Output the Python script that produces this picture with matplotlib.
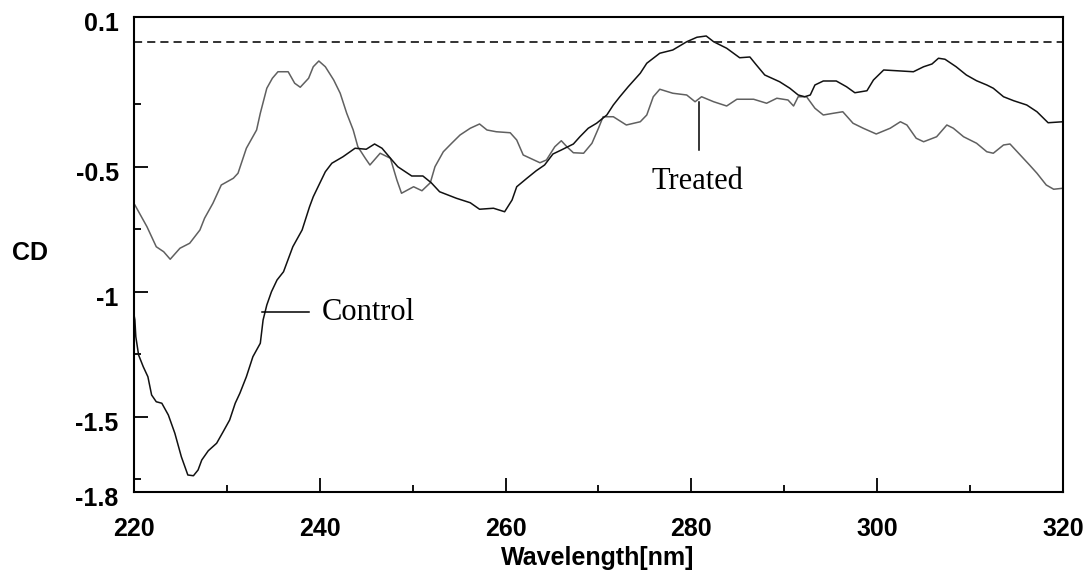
import matplotlib.pyplot as plt
from matplotlib.ticker import FixedLocator
import matplotlib.transforms as mtransforms

# Control spectrum (black)
control_wl = [220.0, 220.1, 220.2, 220.5, 221.0, 221.5, 221.9, 222.4, 223.0,
              223.7, 224.4, 225.1, 225.8, 226.4, 226.9, 227.3, 228.0, 228.9,
              229.6, 230.3, 230.9, 231.4, 232.1, 232.8, 233.6, 233.9, 234.3,
              234.8, 235.4, 236.1, 237.1, 238.1, 238.9, 239.3, 240.0, 240.6,
              241.3, 242.5, 243.8, 245.0, 245.9, 246.7, 247.7, 248.4, 249.9,
              251.1, 252.0, 252.9, 254.7, 256.2, 257.2, 258.7, 259.9, 260.7,
              261.2, 262.3, 263.3, 264.2, 265.1, 266.0, 267.3, 268.0, 268.9,
              269.8, 270.9, 271.6, 272.3, 273.2, 274.5, 275.2, 276.6, 278.0,
              279.5, 280.6, 281.6, 282.4, 283.8, 285.2, 286.3, 287.0, 287.9,
              289.5, 290.6, 291.5, 292.2, 292.8, 293.3, 294.2, 295.6, 296.7,
              297.6, 298.9, 299.6, 300.7, 302.1, 303.9, 305.0, 305.9, 306.6,
              307.3, 308.5, 309.6, 310.7, 311.8, 312.5, 313.6, 314.7, 316.1,
              317.2, 318.4, 320.0]
control_cd = [-1.09, -1.112, -1.179, -1.252, -1.299, -1.339, -1.412, -1.439,
              -1.445, -1.492, -1.565, -1.659, -1.732, -1.735, -1.712, -1.672,
              -1.635, -1.605, -1.559, -1.512, -1.445, -1.405, -1.339, -1.259,
              -1.205, -1.112, -1.052, -0.999, -0.952, -0.919, -0.819, -0.752,
              -0.659, -0.619, -0.565, -0.519, -0.485, -0.459, -0.425, -0.429,
              -0.408, -0.425, -0.469, -0.499, -0.536, -0.536, -0.563, -0.599,
              -0.625, -0.643, -0.669, -0.665, -0.679, -0.632, -0.579, -0.545,
              -0.515, -0.492, -0.448, -0.432, -0.408, -0.379, -0.345, -0.325,
              -0.292, -0.252, -0.219, -0.179, -0.125, -0.085, -0.045, -0.032,
              0.001, 0.019, 0.024, 0.001, -0.025, -0.063, -0.060, -0.092,
              -0.132, -0.159, -0.185, -0.212, -0.219, -0.212, -0.172, -0.156,
              -0.156, -0.179, -0.203, -0.195, -0.152, -0.112, -0.115, -0.119,
              -0.099, -0.088, -0.065, -0.069, -0.099, -0.132, -0.155, -0.172,
              -0.185, -0.219, -0.235, -0.252, -0.279, -0.323, -0.319]

# Treated spectrum (grey)
treated_wl = [220.1, 221.4, 222.4, 223.2, 223.9, 224.95, 226.0, 227.1, 227.6,
              228.5, 229.4, 230.7, 231.2, 232.1, 233.2, 233.6, 234.3, 234.9,
              235.5, 236.6, 237.3, 237.9, 238.8, 239.3, 239.9, 240.6, 241.5,
              242.2, 242.9, 243.6, 244.1, 244.9, 245.4, 246.5, 247.6, 248.3,
              248.8, 250.1, 251.0, 251.9, 252.4, 253.3, 254.2, 255.1, 256.2,
              257.2, 258.0, 259.0, 260.5, 261.2, 261.9, 263.7, 264.4, 265.3,
              266.0, 266.6, 267.3, 268.4, 269.3, 270.0, 270.5, 271.6, 273.0,
              274.5, 275.2, 275.9, 276.6, 278.0, 279.5, 280.4, 281.1, 282.4,
              283.8, 284.9, 286.7, 288.1, 289.2, 290.4, 291.0, 291.5, 292.4,
              293.3, 294.2, 295.3, 296.3, 297.4, 298.5, 299.9, 301.4, 302.5,
              303.2, 304.2, 305.0, 306.4, 307.5, 308.2, 309.3, 310.7, 311.8,
              312.5, 313.6, 314.3, 315.4, 316.4, 317.2, 318.2, 319.0, 320.0]
treated_cd = [-0.652, -0.739, -0.819, -0.839, -0.869, -0.825, -0.805, -0.752,
              -0.705, -0.645, -0.572, -0.545, -0.525, -0.425, -0.352, -0.285,
              -0.185, -0.145, -0.119, -0.119, -0.165, -0.181, -0.145, -0.099,
              -0.076, -0.099, -0.152, -0.205, -0.285, -0.352, -0.419, -0.465,
              -0.492, -0.445, -0.465, -0.552, -0.605, -0.579, -0.595, -0.563,
              -0.499, -0.439, -0.405, -0.372, -0.345, -0.328, -0.352, -0.359,
              -0.363, -0.392, -0.452, -0.483, -0.472, -0.419, -0.395, -0.419,
              -0.443, -0.445, -0.405, -0.345, -0.299, -0.299, -0.332, -0.319,
              -0.292, -0.219, -0.189, -0.205, -0.212, -0.239, -0.219, -0.239,
              -0.256, -0.229, -0.229, -0.245, -0.225, -0.232, -0.256, -0.219,
              -0.219, -0.265, -0.292, -0.285, -0.279, -0.325, -0.345, -0.368,
              -0.345, -0.319, -0.332, -0.385, -0.399, -0.379, -0.332, -0.345,
              -0.379, -0.405, -0.439, -0.445, -0.412, -0.408, -0.452, -0.492,
              -0.525, -0.572, -0.589, -0.585]

y_ticks = [0.1, -0.5, -1, -1.5, -1.8]
y_labels = ["0.1", "-0.5", "-1", "-1.5", "-1.8"]
y_minor = [-0.25, -0.75, -1.25, -1.75]
x_ticks = [220, 240, 260, 280, 300, 320]
x_minor = [230, 250, 270, 290, 310]


def main():
    """CD spectra of control and treated samples"""
    plt.rcParams['font.family'] = ['Liberation Sans', 'DejaVu Sans']
    fig = plt.figure(figsize=(10.9, 5.78), dpi=100)
    ax = fig.add_axes([0.1229, 0.1488, 0.8523, 0.8218])

    ax.plot(treated_wl, treated_cd, color="#606060", lw=1.1)
    ax.plot(control_wl, control_cd, color="#111111", lw=1.1)
    ax.axhline(0, color="#222222", lw=1.3, dashes=(4.5, 2.8))

    ax.set_xlim(220, 320)
    ax.set_ylim(-1.8, 0.1)
    for s in ax.spines.values():
        s.set_linewidth(1.5)

    ax.yaxis.set_major_locator(FixedLocator(y_ticks))
    ax.set_yticklabels(y_labels)
    ax.yaxis.set_minor_locator(FixedLocator(y_minor))
    ax.xaxis.set_major_locator(FixedLocator(x_ticks))
    ax.xaxis.set_minor_locator(FixedLocator(x_minor))
    ax.tick_params(which="both", direction="in", width=1.3)
    ax.tick_params(which="major", length=10)
    ax.tick_params(which="minor", length=5)
    ax.tick_params(axis="y", pad=11, labelsize=18)
    ax.tick_params(axis="x", pad=18, labelsize=18)
    for lab in ax.get_xticklabels() + ax.get_yticklabels():
        lab.set_fontweight("bold")
    shift = mtransforms.ScaledTranslation(0, -5 / 100, fig.dpi_scale_trans)
    for lab in ax.get_yticklabels():
        lab.set_transform(lab.get_transform() + shift)

    fig.text(30 / 1090, 1 - 253 / 578, "CD", fontsize=18, fontweight="bold",
             ha="center", va="center")
    fig.text(598 / 1090, 1 - 558 / 578, "Wavelength[nm]", fontsize=18,
             fontweight="bold", ha="center", va="center")

    # annotation leaders
    ax.plot([233.8, 238.8], [-1.079, -1.079], color="black", lw=1.1)
    ax.text(240.2, -1.112, "Control", family="Liberation Serif",
            fontsize=22, ha="left", va="baseline")
    ax.plot([280.85, 280.85], [-0.239, -0.432], color="black", lw=1.1)
    ax.text(280.66, -0.588, "Treated", family="Liberation Serif",
            fontsize=22, ha="center", va="baseline")

    fig.savefig("out.png", dpi=100)


if __name__ == "__main__":
    main()
